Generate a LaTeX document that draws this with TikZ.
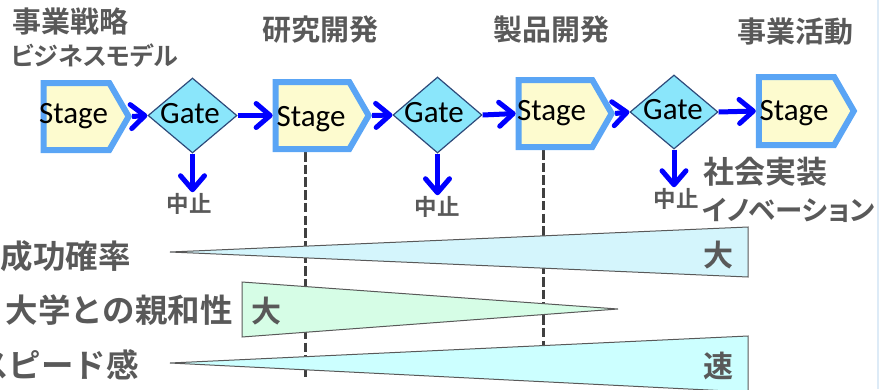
\documentclass[tikz,border=0pt]{standalone}
\usepackage{fontspec}
\newfontfamily\jpfont{Noto Sans CJK JP Bold}
\newfontfamily\jpkana{Noto Sans CJK JP Bold}[RawFeature=+palt]
\newfontfamily\calfont{Carlito}
\usetikzlibrary{shapes.geometric,shapes.symbols,arrows.meta}
\definecolor{txtgray}{HTML}{595959}
\definecolor{stageblue}{HTML}{5AA5F5}
\definecolor{stagefill}{HTML}{FDFBCF}
\definecolor{gatefill}{HTML}{8AE6FB}
\definecolor{gateline}{HTML}{2E4A7A}
\definecolor{flowblue}{HTML}{0000FF}
\definecolor{wedgeA}{HTML}{D4F5FC}
\definecolor{wedgeB}{HTML}{D6FDE6}
\definecolor{wedgeC}{HTML}{CCFFFF}
\definecolor{edgeline}{HTML}{DDEBF7}
\definecolor{guidegray}{HTML}{404040}
\begin{document}
\begin{tikzpicture}[x=1pt,y=-1pt,
  stagebox/.style={signal, signal to=east, signal pointer angle=120, draw=stageblue, line width=6pt, fill=stagefill, inner sep=0pt},
  gatebox/.style={diamond, draw=gateline, line width=1.2pt, fill=gatefill, inner sep=0pt},
  en/.style={font=\calfont\fontsize{31}{31}\selectfont, inner sep=0pt, anchor=base},
  jt/.style={font=\jpfont\fontsize{29}{30}\selectfont, text=txtgray, inner sep=0pt},
  jk/.style={font=\jpkana\fontsize{25}{26}\selectfont, text=txtgray, inner sep=0pt},
  jl/.style={font=\jpfont\fontsize{32.5}{34}\selectfont, text=txtgray, inner sep=0pt, anchor=east},
  js/.style={font=\jpfont\fontsize{22.5}{23}\selectfont, text=txtgray, inner sep=1pt},
  flow/.style={draw=flowblue, line width=5pt, -{Straight Barb[length=14pt,width=24pt,line cap=round,line join=round]}},
  guide/.style={draw=guidegray, line width=3pt, dash pattern=on 9.5pt off 3.2pt},
  wedge/.style={draw=black!65, line width=1pt}
]
\useasboundingbox (0,0) rectangle (879,389);
\draw[edgeline, line width=1.5pt] (878,0) -- (878,389);

% titles
\node[jt, anchor=west] (t1a) at (12,21) {事業戦略};
\node[jk, anchor=west] (t1b) at (11,56) {ビジネスモデル};
\node[jt] (t2) at (320,30) {研究開発};
\node[jt] (t3) at (551,30) {製品開発};
\node[jt] (t4) at (795,32) {事業活動};
\node[jt, anchor=west, font=\jpfont\fontsize{31}{32}\selectfont] (t5) at (703,172) {社会実装};
\node[jk, anchor=west, font=\jpkana\fontsize{27.5}{29}\selectfont] (t6) at (702,210) {イノベーション};

% dashed guides
\coordinate (d1a) at (305,152);
\coordinate (d1b) at (305,380);
\coordinate (d2a) at (543,150);
\coordinate (d2b) at (543,382);
\draw[guide] (d1a) -- (d1b);
\draw[guide] (d2a) -- (d2b);

% stages
\node[stagebox, minimum width=85pt, minimum height=67pt] (s1) at (76.5,116.5) {};
\node[stagebox, minimum width=93pt, minimum height=67pt] (s2) at (312.5,115.5) {};
\node[stagebox, minimum width=93pt, minimum height=67pt] (s3) at (555.5,113.5) {};
\node[stagebox, minimum width=95pt, minimum height=68pt] (s4) at (796.5,111) {};
\node[en] (s1t) at (73.5,123) {Stage};
\node[en] (s2t) at (311,126) {Stage};
\node[en] (s3t) at (551.5,120) {Stage};
\node[en] (s4t) at (794,120) {Stage};

% gates
\node[gatebox, minimum width=89pt, minimum height=75pt] (g1) at (192.5,115.5) {};
\node[gatebox, minimum width=89pt, minimum height=76pt] (g2) at (437.5,115) {};
\node[gatebox, minimum width=88pt, minimum height=74pt] (g3) at (674,112) {};
\node[en] (g1t) at (190,123) {Gate};
\node[en] (g2t) at (434,122) {Gate};
\node[en] (g3t) at (673,119) {Gate};

% stop labels
\node[js] (x1) at (189,204) {中止};
\node[js] (x2) at (437,207) {中止};
\node[js] (x3) at (676,199) {中止};

% flow arrows
\draw[flow] (s1.east) -- (g1.west);
\draw[flow] (g1.east) -- (s2.west);
\draw[flow] (s2.east) -- (g2.west);
\draw[flow] (g2.east) -- (s3.west);
\draw[flow] (s3.east) -- (g3.west);
\draw[flow] (g3.east) -- (s4.west);
\draw[flow] (g1.south) -- (g1.south |- x1.north);
\draw[flow] (g2.south) -- (g2.south |- x2.north);
\draw[flow] (g3.south) -- (g3.south |- x3.north);

% wedges
\draw[wedge, fill=wedgeA] (170,252) -- (748,227) -- (748,277) -- cycle;
\draw[wedge, fill=wedgeB] (242,282) -- (618,309) -- (242,337) -- cycle;
\draw[wedge, fill=wedgeC] (170,363) -- (748,336) -- (748,392) -- cycle;

\node[jl] (l1) at (131,256) {成功確率};
\node[jl] (l2) at (233,310) {大学との親和性};
\node[jl] (l3) at (139,365) {スピード感};

\node[jt, font=\jpfont\fontsize{30}{31}\selectfont] (w1) at (718,255) {大};
\node[jt, font=\jpfont\fontsize{30}{31}\selectfont] (w2) at (266,311) {大};
\node[jt, font=\jpfont\fontsize{30}{31}\selectfont] (w3) at (718,366) {速};
\end{tikzpicture}
\end{document}
